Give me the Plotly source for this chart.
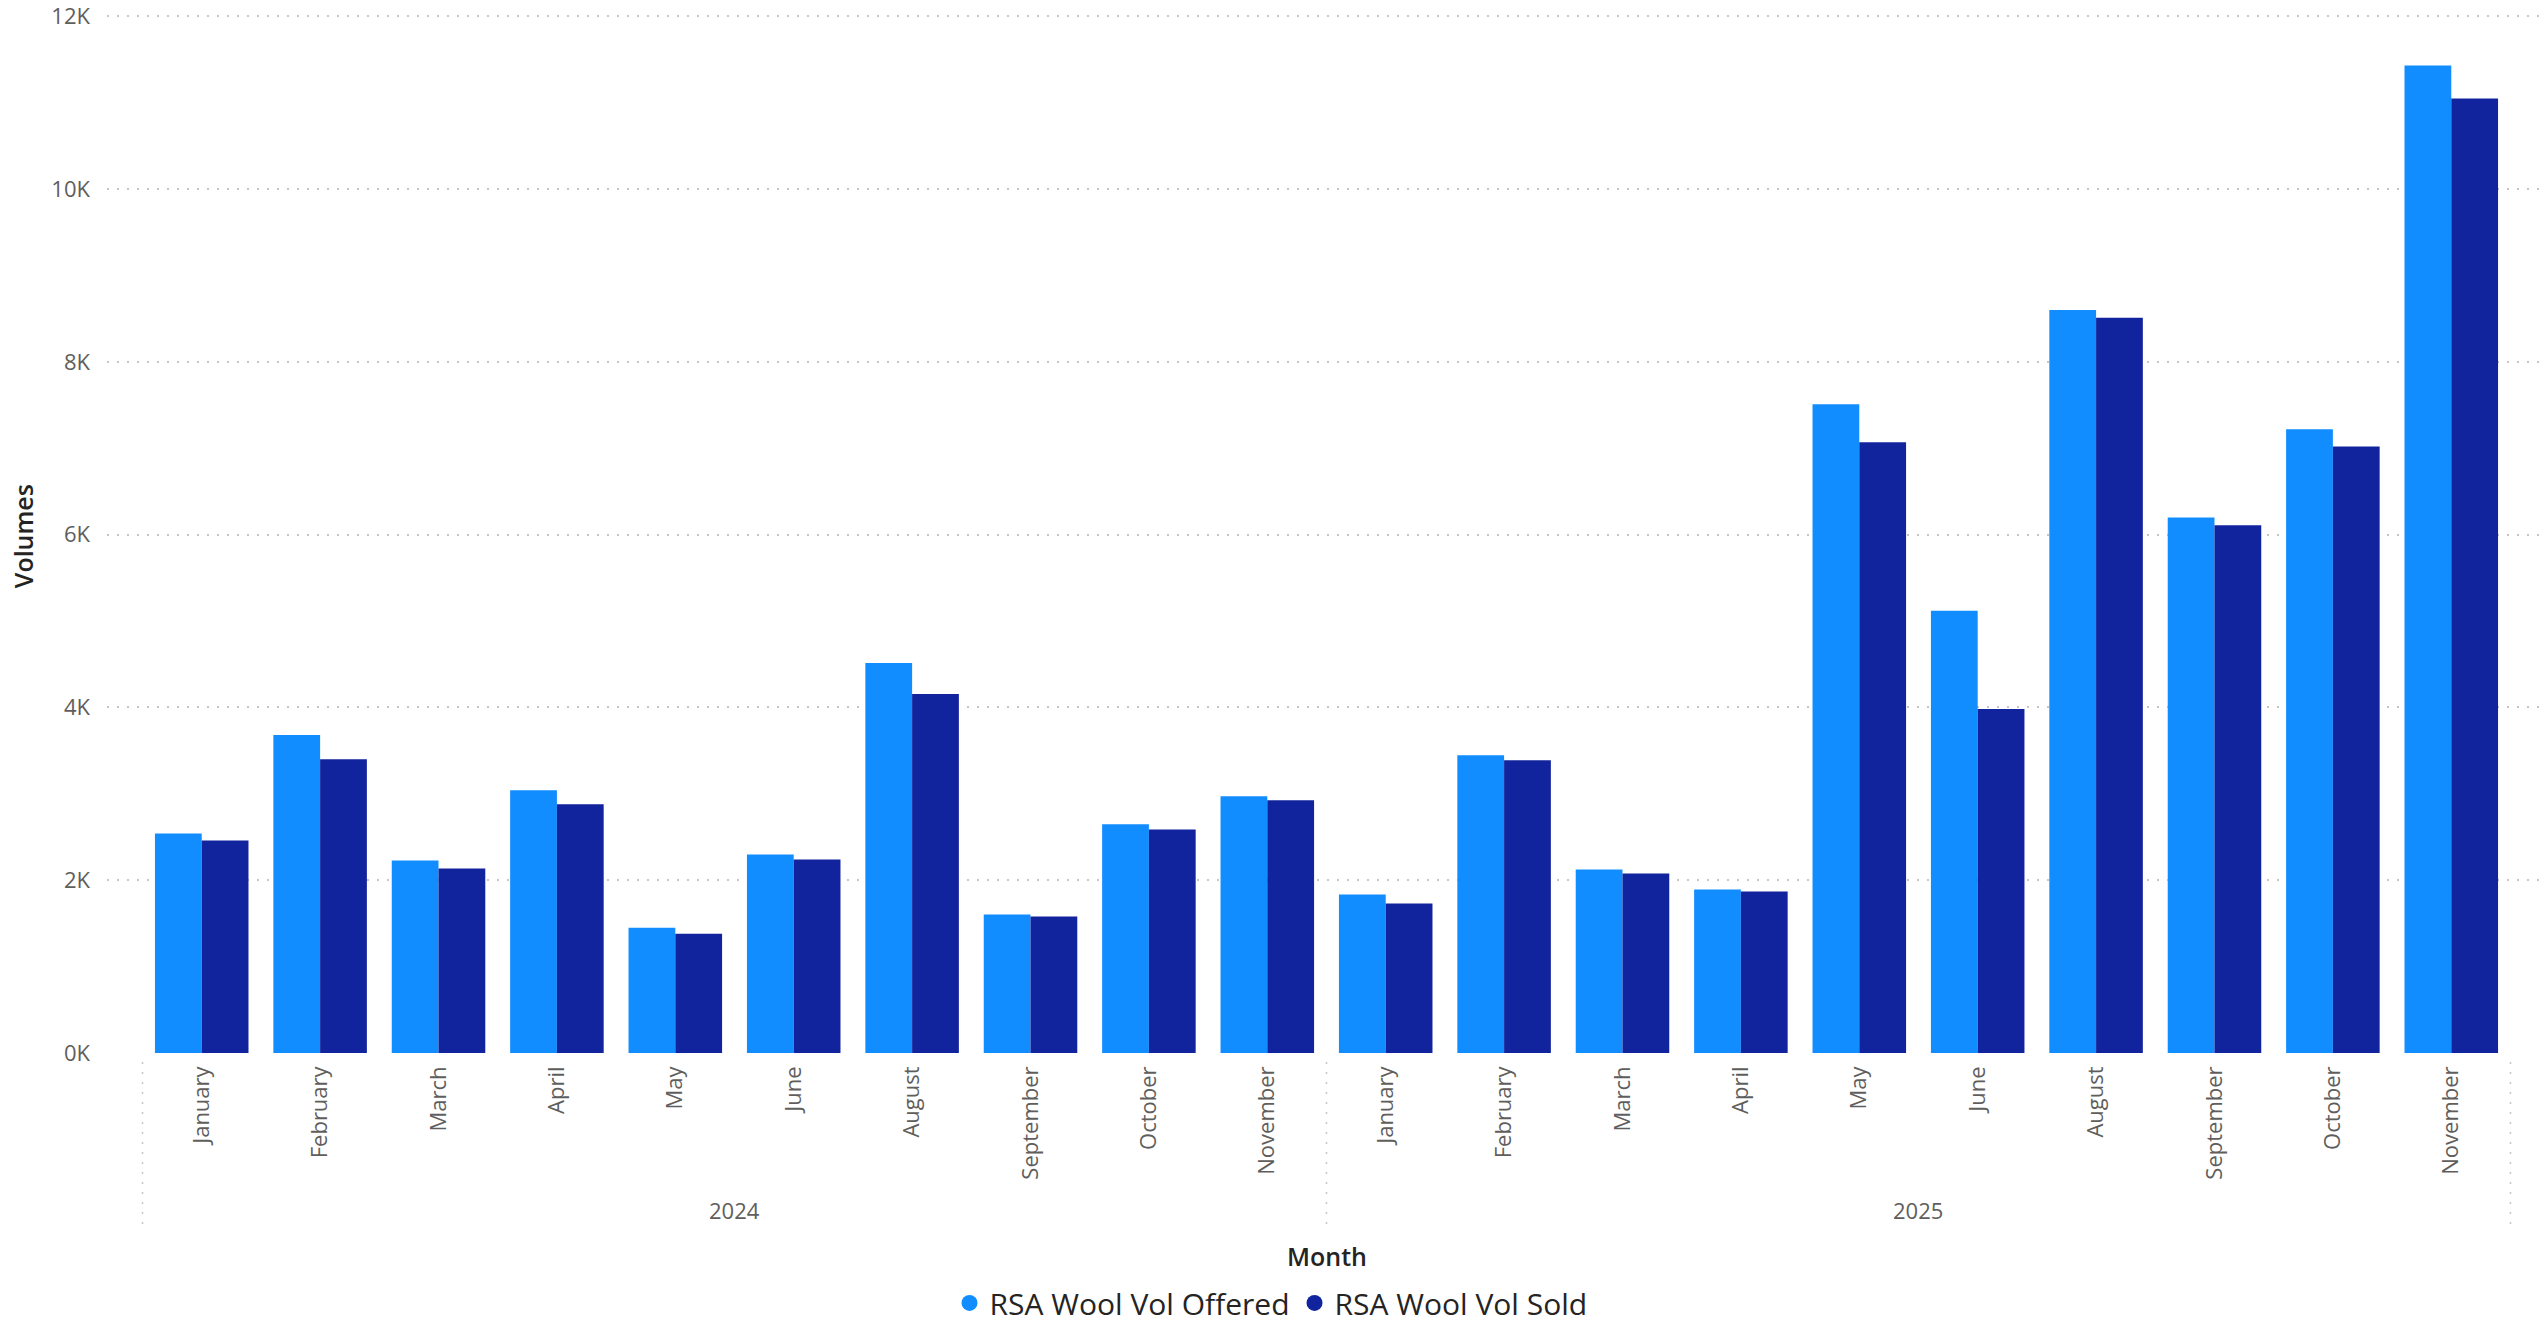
import plotly.graph_objects as go

# ---------------- data ----------------
months = ["January", "February", "March", "April", "May", "June",
          "August", "September", "October", "November",
          "January", "February", "March", "April", "May", "June",
          "August", "September", "October", "November"]
years = ["2024"] * 10 + ["2025"] * 10
year_labels = ["2024", "2025"]

vol_offered = [2542, 3680, 2229, 3041, 1451, 2298, 4515, 1602, 2647, 2972,
               1834, 3447, 2124, 1892, 7510, 5119, 8600, 6200, 7220, 11430]
vol_sold = [2461, 3401, 2136, 2879, 1381, 2240, 4155, 1579, 2588, 2925,
            1730, 3389, 2078, 1869, 7070, 3981, 8510, 6110, 7020, 11050]

y_ticks = [0, 2000, 4000, 6000, 8000, 10000, 12000]
y_tick_labels = ["0K", "2K", "4K", "6K", "8K", "10K", "12K"]

series_names = ["RSA Wool Vol Offered", "RSA Wool Vol Sold"]
colors = ["#118DFF", "#12239E"]

# ---------------- figure ----------------
W, H = 2546, 1324
Y_MAX = 12000
Y_TOP = Y_MAX * 1.01          # small headroom so the 12K grid line/label are kept
ZERO_PIX, TOP_PIX = 1053, 16   # page pixel rows of 0K and 12K
ML, MR = 107, 0
MB = H - ZERO_PIX
plot_h = (ZERO_PIX - TOP_PIX) * Y_TOP / Y_MAX
MT = H - MB - plot_h
plot_w = W - ML - MR

def py(pix):  # page pixel y -> paper y
    return (ZERO_PIX - pix) / plot_h

def px(pix):  # page pixel x -> paper x
    return (pix - ML) / plot_w

idx = list(range(len(months)))

fig = go.Figure()
for name, vals, col in zip(series_names, [vol_offered, vol_sold], colors):
    fig.add_trace(go.Bar(x=idx, y=vals, name=name, marker=dict(color=col, line=dict(width=0)),
                         showlegend=False))
# legend entries with circle markers
for name, col in zip(series_names, colors):
    fig.add_trace(go.Scatter(x=[None], y=[None], mode="markers", name=name,
                             marker=dict(symbol="circle", size=16, color=col)))

tick_font = dict(family="Open Sans", size=22, color="#605E5C")
grid_col = "#C8C6C4"

fig.update_layout(
    width=W, height=H, autosize=False,
    margin=dict(l=ML, r=MR, t=MT, b=MB, pad=0, autoexpand=False),
    paper_bgcolor="white", plot_bgcolor="white",
    barmode="group", bargap=0.21, bargroupgap=0,
    font=dict(family="Open Sans", color="#252423"),
    showlegend=True,
    legend=dict(orientation="h", x=px(1271), xanchor="center", y=py(1303), yanchor="middle",
                font=dict(family="Open Sans", size=30, color="#252423"),
                itemsizing="trace", tracegroupgap=0, bgcolor="rgba(0,0,0,0)"),
    xaxis=dict(range=[-0.8, 19.8], tickmode="array", tickvals=idx, ticktext=months,
               tickangle=-90, tickfont=tick_font, showgrid=False, zeroline=False,
               showline=False, ticks="", ticklabelstandoff=8, fixedrange=True,
               automargin=False),
    yaxis=dict(range=[0, Y_TOP], tickmode="array", tickvals=y_ticks, ticktext=y_tick_labels,
               tickfont=tick_font, showgrid=True, gridcolor=grid_col, gridwidth=1.5,
               griddash="2px,8px", zeroline=False, showline=False, ticks="",
               ticklabelstandoff=16, fixedrange=True, automargin=False),
)

# year group dividers (dotted)
for xd in [-0.5, 9.5, 19.5]:
    fig.add_shape(type="line", xref="x", yref="paper", x0=xd, x1=xd,
                  y0=py(1062), y1=py(1232),
                  line=dict(color=grid_col, width=1.5, dash="2px,8px"))

# year labels
for yl in year_labels:
    members = [k for k, y in enumerate(years) if y == yl]
    xc = (members[0] + members[-1]) / 2
    fig.add_annotation(x=xc, xref="x", y=py(1210), yref="paper", text=yl, showarrow=False,
                       xanchor="center", yanchor="middle", font=tick_font)

# axis titles
fig.add_annotation(x=0.5, xref="paper", y=py(1256), yref="paper", text="Month", showarrow=False,
                   xanchor="center", yanchor="middle",
                   font=dict(family="Open Sans", size=25, color="#252423", weight=600))
fig.add_annotation(x=px(23), xref="paper", y=py(536), yref="paper", text="Volumes",
                   showarrow=False, textangle=-90, xanchor="center", yanchor="middle",
                   font=dict(family="Open Sans", size=25, color="#252423", weight=600))

fig.write_html("out.html", config={"displayModeBar": False},
               post_script="document.body.style.margin='0';document.body.style.overflow='hidden';")
